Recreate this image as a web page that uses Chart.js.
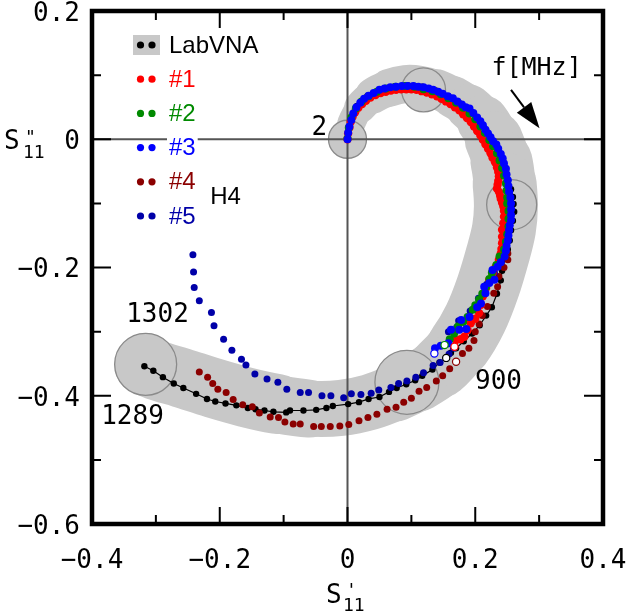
<!DOCTYPE html>
<html>
<head>
<meta charset="utf-8">
<script src="https://cdn.jsdelivr.net/npm/chart.js@4"></script>
<style>
  body { margin: 0; background: #fff; }
  canvas { display: block; }
</style>
</head>
<body>
<canvas id="c" width="631" height="613"></canvas>
<script>
// S11 (re, im), frequency runs 2 MHz -> 1302 MHz
const labVna = [
  [0.000,0.000],[0.005,0.030],[0.015,0.052],[0.031,0.067],[0.051,0.077],[0.073,0.082],[0.095,0.084],[0.117,0.082],
  [0.138,0.076],[0.158,0.067],[0.176,0.056],[0.192,0.043],[0.206,0.028],[0.218,0.011],[0.229,-0.007],[0.238,-0.026],
  [0.245,-0.045],[0.251,-0.064],[0.256,-0.078],[0.259,-0.090],[0.260,-0.101],[0.261,-0.113],[0.259,-0.127],[0.256,-0.142],
  [0.254,-0.158],[0.251,-0.172],[0.247,-0.186],[0.242,-0.205],[0.240,-0.220],[0.234,-0.241],[0.226,-0.262],[0.217,-0.275],
  [0.207,-0.290],[0.195,-0.303],[0.182,-0.315],[0.170,-0.326],[0.162,-0.333],[0.1545,-0.341],[0.144,-0.348],[0.133,-0.359],
  [0.117,-0.369],[0.106,-0.376],[0.092,-0.382],[0.077,-0.388],[0.065,-0.394],[0.050,-0.402],[0.033,-0.405],[0.018,-0.410],
  [0.001,-0.413],[-0.023,-0.416],[-0.033,-0.419],[-0.049,-0.422],[-0.069,-0.423],[-0.090,-0.423],[-0.096,-0.426],[-0.116,-0.425],
  [-0.130,-0.423],[-0.144,-0.421],[-0.156,-0.419],[-0.174,-0.415],[-0.191,-0.412],[-0.207,-0.409],[-0.220,-0.405],[-0.237,-0.397],
  [-0.257,-0.388],[-0.272,-0.381],[-0.289,-0.371],[-0.304,-0.361],[-0.318,-0.354]
];
const sample1 = [
  [0.000,0.000],[0.001,0.009],[0.003,0.018],[0.005,0.027],[0.008,0.035],[0.012,0.042],[0.017,0.049],[0.023,0.055],
  [0.029,0.060],[0.036,0.065],[0.044,0.069],[0.052,0.072],[0.060,0.074],[0.068,0.076],[0.076,0.077],[0.084,0.078],
  [0.092,0.078],[0.100,0.078],[0.108,0.077],[0.116,0.075],[0.124,0.073],[0.132,0.070],[0.140,0.067],[0.147,0.063],
  [0.154,0.059],[0.161,0.055],[0.168,0.050],[0.175,0.045],[0.181,0.039],[0.187,0.033],[0.193,0.027],[0.198,0.020],
  [0.203,0.013],[0.208,0.006],[0.212,-0.001],[0.216,-0.008],[0.220,-0.015],[0.224,-0.022],[0.227,-0.029],[0.231,-0.036],
  [0.234,-0.044],[0.236,-0.051],[0.237,-0.058],[0.236,-0.065],[0.235,-0.071],[0.234,-0.077],[0.237,-0.082],[0.239,-0.088],
  [0.240,-0.093],[0.242,-0.099],[0.244,-0.105],[0.245,-0.112],[0.245,-0.121],[0.244,-0.131],[0.242,-0.141],[0.242,-0.152],
  [0.242,-0.162],[0.241,-0.171],[0.240,-0.178],[0.237,-0.188],[0.232,-0.199],[0.227,-0.209],[0.222,-0.219],[0.217,-0.232],
  [0.212,-0.245],[0.209,-0.258],[0.206,-0.271],[0.200,-0.280],[0.193,-0.287],[0.188,-0.298],[0.183,-0.308],[0.177,-0.312],
  [0.170,-0.313]
];
const sample2 = [
  [0.000,0.001],[0.002,0.018],[0.006,0.034],[0.013,0.048],[0.022,0.059],[0.033,0.067],[0.046,0.074],[0.060,0.079],
  [0.075,0.082],[0.090,0.083],[0.105,0.082],[0.119,0.078],[0.133,0.075],[0.146,0.070],[0.158,0.064],[0.170,0.057],
  [0.181,0.049],[0.191,0.040],[0.200,0.031],[0.208,0.020],[0.215,0.010],[0.222,-0.001],[0.228,-0.011],[0.234,-0.022],
  [0.238,-0.033],[0.242,-0.045],[0.245,-0.057],[0.248,-0.069],[0.249,-0.080],[0.250,-0.091],[0.250,-0.100],[0.252,-0.112],
  [0.252,-0.124],[0.252,-0.136],[0.250,-0.148],[0.248,-0.160],[0.245,-0.172],[0.238,-0.183],[0.233,-0.196],[0.226,-0.208],
  [0.222,-0.218],[0.217,-0.230],[0.211,-0.241],[0.206,-0.250],[0.200,-0.259],[0.196,-0.266],[0.188,-0.277],[0.181,-0.285],
  [0.173,-0.292],[0.167,-0.303],[0.160,-0.312]
];
const sample3 = [
  [0.000,0.000],[0.001,0.010],[0.003,0.020],[0.006,0.030],[0.009,0.040],[0.014,0.050],[0.020,0.057],[0.026,0.063],
  [0.033,0.068],[0.041,0.072],[0.050,0.077],[0.058,0.079],[0.067,0.081],[0.076,0.082],[0.085,0.083],[0.094,0.083],
  [0.103,0.083],[0.111,0.082],[0.119,0.081],[0.127,0.079],[0.134,0.077],[0.142,0.074],[0.149,0.071],[0.157,0.067],
  [0.165,0.064],[0.172,0.059],[0.179,0.054],[0.185,0.050],[0.191,0.048],[0.197,0.041],[0.203,0.034],[0.208,0.028],
  [0.212,0.022],[0.216,0.015],[0.220,0.009],[0.224,0.003],[0.228,-0.003],[0.233,-0.008],[0.236,-0.015],[0.240,-0.023],
  [0.243,-0.030],[0.245,-0.038],[0.248,-0.046],[0.249,-0.055],[0.251,-0.064],[0.252,-0.073],[0.253,-0.082],[0.255,-0.091],
  [0.256,-0.100],[0.256,-0.109],[0.256,-0.118],[0.256,-0.126],[0.254,-0.134],[0.253,-0.142],[0.252,-0.150],[0.251,-0.158],
  [0.249,-0.166],[0.248,-0.174],[0.246,-0.183],[0.240,-0.192],[0.235,-0.199],[0.227,-0.204],[0.230,-0.219],[0.222,-0.224],
  [0.214,-0.230],[0.216,-0.240],[0.209,-0.256],[0.203,-0.262],[0.191,-0.277],[0.178,-0.282],[0.186,-0.296],[0.175,-0.297],
  [0.162,-0.297],[0.158,-0.318],[0.146,-0.322],[0.137,-0.326]
];
const sample4 = [
  [0.251,-0.178],[0.251,-0.188],[0.245,-0.200],[0.237,-0.214],[0.235,-0.230],[0.229,-0.240],[0.219,-0.261],[0.211,-0.275],
  [0.206,-0.288],[0.200,-0.300],[0.198,-0.314],[0.190,-0.326],[0.180,-0.334],[0.160,-0.358],[0.149,-0.369],[0.139,-0.377],
  [0.124,-0.387],[0.112,-0.393],[0.100,-0.404],[0.088,-0.410],[0.076,-0.418],[0.062,-0.421],[0.046,-0.429],[0.032,-0.434],
  [0.018,-0.439],[0.002,-0.445],[-0.012,-0.447],[-0.027,-0.448],[-0.041,-0.448],[-0.053,-0.448],[-0.074,-0.444],[-0.085,-0.444],
  [-0.098,-0.441],[-0.108,-0.434],[-0.121,-0.433],[-0.138,-0.427],[-0.149,-0.417],[-0.164,-0.414],[-0.179,-0.406],[-0.190,-0.395],
  [-0.203,-0.390],[-0.211,-0.381],[-0.219,-0.371],[-0.232,-0.363]
];
const sample5 = [
  [0.230,-0.208],[0.218,-0.226],[0.205,-0.248],[0.192,-0.268],[0.174,-0.283],[0.171,-0.293],[0.158,-0.300],[0.158,-0.319],
  [0.166,-0.326],[0.159,-0.335],[0.145,-0.348],[0.134,-0.353],[0.119,-0.364],[0.107,-0.371],[0.093,-0.377],[0.080,-0.381],
  [0.068,-0.387],[0.049,-0.391],[0.037,-0.396],[0.021,-0.398],[0.006,-0.397],[-0.006,-0.403],[-0.026,-0.400],[-0.040,-0.400],
  [-0.061,-0.395],[-0.074,-0.395],[-0.095,-0.390],[-0.109,-0.379],[-0.126,-0.374],[-0.145,-0.366],[-0.159,-0.352],[-0.166,-0.343],
  [-0.181,-0.329],[-0.194,-0.312],[-0.209,-0.291],[-0.213,-0.270],[-0.232,-0.252],[-0.240,-0.231],[-0.241,-0.207],[-0.242,-0.180]
];
// 900 MHz points (open markers): LabVNA, #1, #2, #3, #4
const at900 = [[0.1545,-0.341],[0.1675,-0.3235],[0.152,-0.321],[0.136,-0.334],[0.170,-0.347]];
// LabVNA uncertainty band (centre line) and uncertainty circles
const bandPath = [
  [0.000,0.000],[0.006,0.025],[0.020,0.050],[0.040,0.068],[0.065,0.080],[0.090,0.086],[0.113,0.085],[0.140,0.078],
  [0.165,0.066],[0.190,0.050],[0.212,0.028],[0.229,-0.001],[0.241,-0.035],[0.246,-0.070],[0.248,-0.105],[0.245,-0.140],
  [0.236,-0.177],[0.220,-0.230],[0.200,-0.280],[0.175,-0.322],[0.145,-0.355],[0.110,-0.378],[0.075,-0.395],[0.035,-0.410],
  [-0.010,-0.419],[-0.060,-0.420],[-0.110,-0.413],[-0.160,-0.402],[-0.210,-0.388],[-0.260,-0.372],[-0.300,-0.360],[-0.318,-0.352]
];
const circleCentres = [[0.000,0.000],[0.119,0.077],[0.257,-0.102],[0.093,-0.379],[-0.316,-0.351]];
const xTicks = [-0.4, -0.2, 0, 0.2, 0.4];
const yTicks = [-0.6, -0.4, -0.2, 0, 0.2];

const RED = '#ff0000', GREEN = '#008a00', BLUE = '#0000ff', DRED = '#8b0000', DBLUE = '#0000a8', BAND = '#c8c8c8';
const MONO = '"DejaVu Sans Mono", monospace';
const SANS = '"Liberation Sans", Arial, sans-serif';
const bandWidths = [24,28,32,36,38,38,38,40,42,46,52,58,62,64,64,64,64,64,64,62,60,58,56,56,56,58,60,60,60,60,60];
const circleRadii = [19, 22, 25, 32, 31];

const pts = a => a.map(([x, y]) => ({x, y}));
const fmt = v => Math.abs(v) < 1e-9 ? '0' : (v < 0 ? '\u2212' : '') + Math.abs(v).toFixed(1);
// keep the plot box fixed: no extra room for overhanging tick labels
const noLabelPadding = s => { s.paddingLeft = s.paddingRight = s.paddingTop = s.paddingBottom = 0; };

// zero lines go above the band and circles, below the points
const zeroLines = {
  id: 'zeroLines',
  afterDatasetDraw(chart, args) {
    if (chart.data.datasets[args.index].label !== 'circles') return;
    const {ctx, chartArea: a, scales: {x, y}} = chart;
    ctx.save();
    ctx.strokeStyle = '#555';
    ctx.lineWidth = 2;
    ctx.beginPath();
    ctx.moveTo(x.getPixelForValue(0), a.top);
    ctx.lineTo(x.getPixelForValue(0), a.bottom);
    ctx.moveTo(a.left, y.getPixelForValue(0));
    ctx.lineTo(a.right, y.getPixelForValue(0));
    ctx.stroke();
    ctx.restore();
  }
};

const frame = {
  id: 'frame',
  afterDraw(chart) {
    const {ctx, chartArea: a, scales: {x, y}} = chart;
    ctx.save();
    ctx.strokeStyle = '#000';
    ctx.lineWidth = 2;
    ctx.beginPath();
    for (let i = -3; i <= 3; i++) {
      const px = x.getPixelForValue(i / 10);
      const len = i % 2 === 0 ? 17 : 9;
      ctx.moveTo(px, a.top); ctx.lineTo(px, a.top + len);
      ctx.moveTo(px, a.bottom); ctx.lineTo(px, a.bottom - len);
    }
    for (let i = -5; i <= 1; i++) {
      const py = y.getPixelForValue(i / 10);
      const len = i % 2 === 0 ? 19 : 9;
      ctx.moveTo(a.left, py); ctx.lineTo(a.left + len, py);
      ctx.moveTo(a.right, py); ctx.lineTo(a.right - len, py);
    }
    ctx.stroke();
    ctx.lineWidth = 4.5;
    ctx.strokeRect(a.left, a.top, a.right - a.left, a.bottom - a.top);

    // legend
    const items = [['LabVNA', '#000', '#000'], ['#1', RED, RED], ['#2', GREEN, GREEN],
                   ['#3', BLUE, BLUE], ['#4', DRED, DRED], ['#5', DBLUE, DBLUE]];
    ctx.font = '24px ' + SANS;
    ctx.textBaseline = 'middle';
    items.forEach(([name, dot, txt], i) => {
      const cy = 45 + i * 34.2;
      if (i === 0) { ctx.fillStyle = BAND; ctx.fillRect(133, cy - 10, 27, 20); }
      ctx.fillStyle = dot;
      [140.5, 152].forEach(cx => { ctx.beginPath(); ctx.arc(cx, cy, 3.6, 0, Math.PI * 2); ctx.fill(); });
      const w = ctx.measureText(name).width;
      ctx.fillStyle = '#fff';
      ctx.fillRect(167, cy - 13, w + 4, 26);
      ctx.fillStyle = txt;
      ctx.fillText(name, 169, cy + 1);
    });

    // annotations
    ctx.fillStyle = '#000';
    ctx.textAlign = 'center';
    ctx.font = '24px ' + SANS;
    ctx.fillText('H4', x.getPixelForValue(-0.191), y.getPixelForValue(-0.090));
    ctx.font = '26px ' + MONO;
    [['2', -0.044, 0.0175], ['1302', -0.2975, -0.274], ['1289', -0.3366, -0.433], ['900', 0.2364, -0.3786]]
      .forEach(([t, vx, vy]) => ctx.fillText(t, x.getPixelForValue(vx), y.getPixelForValue(vy)));
    ctx.font = '25px ' + MONO;
    ctx.fillText('f[MHz]', x.getPixelForValue(0.296), y.getPixelForValue(0.111));

    // arrow
    const x0 = x.getPixelForValue(0.256), y0 = y.getPixelForValue(0.077);
    const x1 = x.getPixelForValue(0.3006), y1 = y.getPixelForValue(0.017);
    const dx = x1 - x0, dy = y1 - y0, L = Math.hypot(dx, dy), ux = dx / L, uy = dy / L;
    const bx = x1 - ux * 26, by = y1 - uy * 26;
    ctx.lineWidth = 2;
    ctx.beginPath(); ctx.moveTo(x0, y0); ctx.lineTo(bx, by); ctx.stroke();
    ctx.beginPath();
    ctx.moveTo(x1, y1);
    ctx.lineTo(bx - uy * 9, by + ux * 9);
    ctx.lineTo(bx + uy * 9, by - ux * 9);
    ctx.closePath(); ctx.fill();

    // axis titles
    ctx.textAlign = 'left';
    ctx.textBaseline = 'alphabetic';
    ctx.font = '26px ' + MONO;
    ctx.fillText('S', 4, 149);
    ctx.fillText('S', 326, 603);
    ctx.font = '18px ' + MONO;
    ctx.fillText('"', 25, 143);
    ctx.fillText('11', 23, 158);
    ctx.fillText("'", 346, 596);
    ctx.fillText('11', 343, 611);
    ctx.restore();
  }
};

const scatterSet = (label, data, color, r, order) => ({
  label, data: pts(data), order,
  pointRadius: r, pointBorderWidth: 0,
  pointBackgroundColor: color, borderColor: color, backgroundColor: color
});

new Chart(document.getElementById('c'), {
  type: 'scatter',
  data: {
    datasets: [
      {
        label: '900 MHz', data: pts(at900), order: 0,
        pointRadius: 3.6, pointBorderWidth: 1.2,
        pointBackgroundColor: '#fff',
        pointBorderColor: ['#000', RED, GREEN, BLUE, DRED]
      },
      scatterSet('#3', sample3, BLUE, 4, 1),
      scatterSet('#2', sample2, GREEN, 4, 2),
      scatterSet('#1', sample1, RED, 4.2, 3),
      scatterSet('#5', sample5, DBLUE, 3.5, 4),
      scatterSet('#4', sample4, DRED, 3.5, 5),
      Object.assign(scatterSet('LabVNA', labVna, '#000', 3.2, 6), {showLine: true, borderWidth: 1.2}),
      {
        label: 'circles', data: pts(circleCentres), order: 8,
        pointRadius: circleRadii, pointBackgroundColor: BAND,
        pointBorderColor: '#8a8a8a', pointBorderWidth: 1.3
      },
      {
        type: 'line', label: 'band', data: pts(bandPath), order: 9,
        borderColor: BAND, borderWidth: 60, pointRadius: 0, fill: false, tension: 0.35,
        borderCapStyle: 'round', borderJoinStyle: 'round',
        segment: { borderWidth: ctx => bandWidths[ctx.p0DataIndex] }
      }
    ]
  },
  options: {
    responsive: false,
    animation: false,
    devicePixelRatio: 1,
    events: [],
    layout: { autoPadding: false, padding: { top: 11, right: 28, left: 0, bottom: 0 } },
    plugins: { legend: { display: false }, tooltip: { enabled: false } },
    scales: {
      x: {
        type: 'linear', min: -0.4, max: 0.4,
        afterFit: s => { s.height = 89; noLabelPadding(s); },
        afterBuildTicks: s => { s.ticks = xTicks.map(value => ({value})); },
        grid: { display: false, drawTicks: false },
        border: { display: false },
        ticks: { padding: 22, color: '#000', font: { family: MONO, size: 26 }, callback: fmt, maxRotation: 0, autoSkip: false }
      },
      y: {
        type: 'linear', min: -0.6, max: 0.2,
        afterFit: s => { s.width = 92; noLabelPadding(s); },
        afterBuildTicks: s => { s.ticks = yTicks.map(value => ({value})); },
        grid: { display: false, drawTicks: false },
        border: { display: false },
        ticks: { padding: 12, labelOffset: 3, color: '#000', font: { family: MONO, size: 26 }, callback: fmt, autoSkip: false }
      }
    }
  },
  plugins: [zeroLines, frame]
});
</script>
</body>
</html>
